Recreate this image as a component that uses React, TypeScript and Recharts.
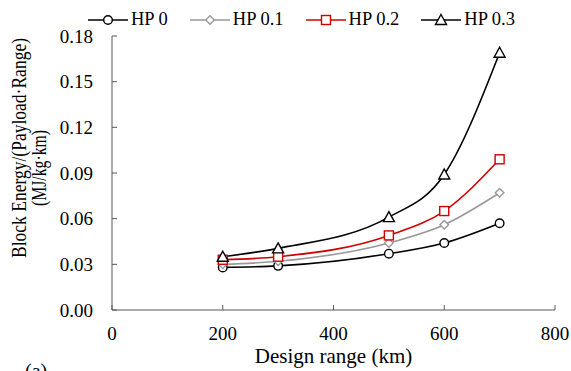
import React from "react";
import { LineChart, Line, XAxis, YAxis, Legend } from "recharts";

// design range (km) and block energy per payload-range (MJ/kg·km)
const designRange = [200, 300, 500, 600, 700];
const hp0 = [0.028, 0.029, 0.037, 0.044, 0.057];
const hp01 = [0.030, 0.032, 0.044, 0.056, 0.077];
const hp02 = [0.033, 0.035, 0.049, 0.065, 0.099];
const hp03 = [0.035, 0.0405, 0.061, 0.089, 0.169];

const xTicks = [0, 200, 400, 600, 800];
const yTicks = [0, 0.03, 0.06, 0.09, 0.12, 0.15, 0.18];

const FONT = '"Liberation Serif", "Times New Roman", serif';
const AXIS = "#595959";

const series = [
  { key: "hp0", name: "HP 0", color: "#000000", marker: "circle" },
  { key: "hp01", name: "HP 0.1", color: "#999999", marker: "diamond" },
  { key: "hp02", name: "HP 0.2", color: "#d00000", marker: "square" },
  { key: "hp03", name: "HP 0.3", color: "#000000", marker: "triangle" },
];

const rows = designRange.map((range, i) => ({
  range,
  hp0: hp0[i],
  hp01: hp01[i],
  hp02: hp02[i],
  hp03: hp03[i],
}));

const Marker = ({ type, cx, cy, color }: any) => {
  const sw = 1.4;
  if (type === "circle")
    return <circle cx={cx} cy={cy} r={4.3} fill="#fff" stroke={color} strokeWidth={sw} />;
  if (type === "diamond")
    return (
      <path
        d={`M${cx},${cy - 4.3}L${cx + 4.3},${cy}L${cx},${cy + 4.3}L${cx - 4.3},${cy}Z`}
        fill="#fff"
        stroke={color}
        strokeWidth={sw}
      />
    );
  if (type === "square")
    return (
      <rect x={cx - 4.5} y={cy - 4.5} width={9} height={9} fill="#fff" stroke={color} strokeWidth={sw} />
    );
  return (
    <path
      d={`M${cx},${cy - 5.5}L${cx + 5.5},${cy + 4.5}L${cx - 5.5},${cy + 4.5}Z`}
      fill="#fff"
      stroke={color}
      strokeWidth={sw}
    />
  );
};

const LegendRow = () => (
  <div
    style={{
      display: "flex",
      height: 39,
      alignItems: "center",
      paddingLeft: 88,
      fontFamily: FONT,
      fontSize: 18.5,
      color: "#000",
    }}
  >
    {series.map((s) => (
      <div key={s.key} style={{ display: "flex", alignItems: "center", marginRight: 22 }}>
        <svg width={40} height={14}>
          <line x1={0} y1={7} x2={40} y2={7} stroke={s.color} strokeWidth={1.6} />
          <Marker type={s.marker} cx={20} cy={7} color={s.color} />
        </svg>
        <span style={{ marginLeft: 3, whiteSpace: "nowrap" }}>{s.name}</span>
      </div>
    ))}
  </div>
);

const YLabel = () => (
  <g fontFamily={FONT} fontSize={20} fill="#000">
    <text
      transform="translate(26,148) rotate(-90)"
      textAnchor="middle"
      textLength={220}
      lengthAdjust="spacingAndGlyphs"
    >
      Block Energy/(Payload·Range)
    </text>
    <text
      transform="translate(46,168) rotate(-90)"
      textAnchor="middle"
      textLength={76}
      lengthAdjust="spacingAndGlyphs"
    >
      (MJ/kg·km)
    </text>
  </g>
);

const XLabel = ({ viewBox }: any) => (
  <g fontFamily={FONT} fill="#000">
    <text x={viewBox.x + viewBox.width / 2} y={363} fontSize={21} textAnchor="middle">
      Design range (km)
    </text>
    <text x={25} y={378} fontSize={20}>
      (a)
    </text>
  </g>
);

export default function App() {
  return (
    <div style={{ width: 571, height: 371, background: "#fff" }}>
      <style>{"body{margin:0}"}</style>
      <LineChart width={571} height={371} data={rows} margin={{ top: 0, right: 16, bottom: 0, left: 0 }}>
        <Legend verticalAlign="top" height={36} content={() => <LegendRow />} wrapperStyle={{ top: 0, left: 0 }} />
        <XAxis
          type="number"
          dataKey="range"
          domain={[0, 800]}
          ticks={xTicks}
          height={61}
          tickSize={-5}
          tickMargin={22}
          stroke={AXIS}
          tick={{ fill: "#000", fontSize: 19, fontFamily: FONT }}
          label={{ content: XLabel }}
        />
        <YAxis
          type="number"
          domain={[0, 0.18]}
          ticks={yTicks}
          width={112}
          tickSize={-5}
          tickMargin={24}
          stroke={AXIS}
          tickFormatter={(v: number) => v.toFixed(2)}
          tick={{ fill: "#000", fontSize: 19, fontFamily: FONT }}
          label={{ content: YLabel }}
        />
        {series.map((s) => (
          <Line
            key={s.key}
            dataKey={s.key}
            name={s.name}
            type="monotone"
            stroke={s.color}
            strokeWidth={1.6}
            isAnimationActive={false}
            dot={(p: any) => (
              <Marker key={`${s.key}-${p.index}`} type={s.marker} cx={p.cx} cy={p.cy} color={s.color} />
            )}
            activeDot={false}
          />
        ))}
      </LineChart>
    </div>
  );
}
